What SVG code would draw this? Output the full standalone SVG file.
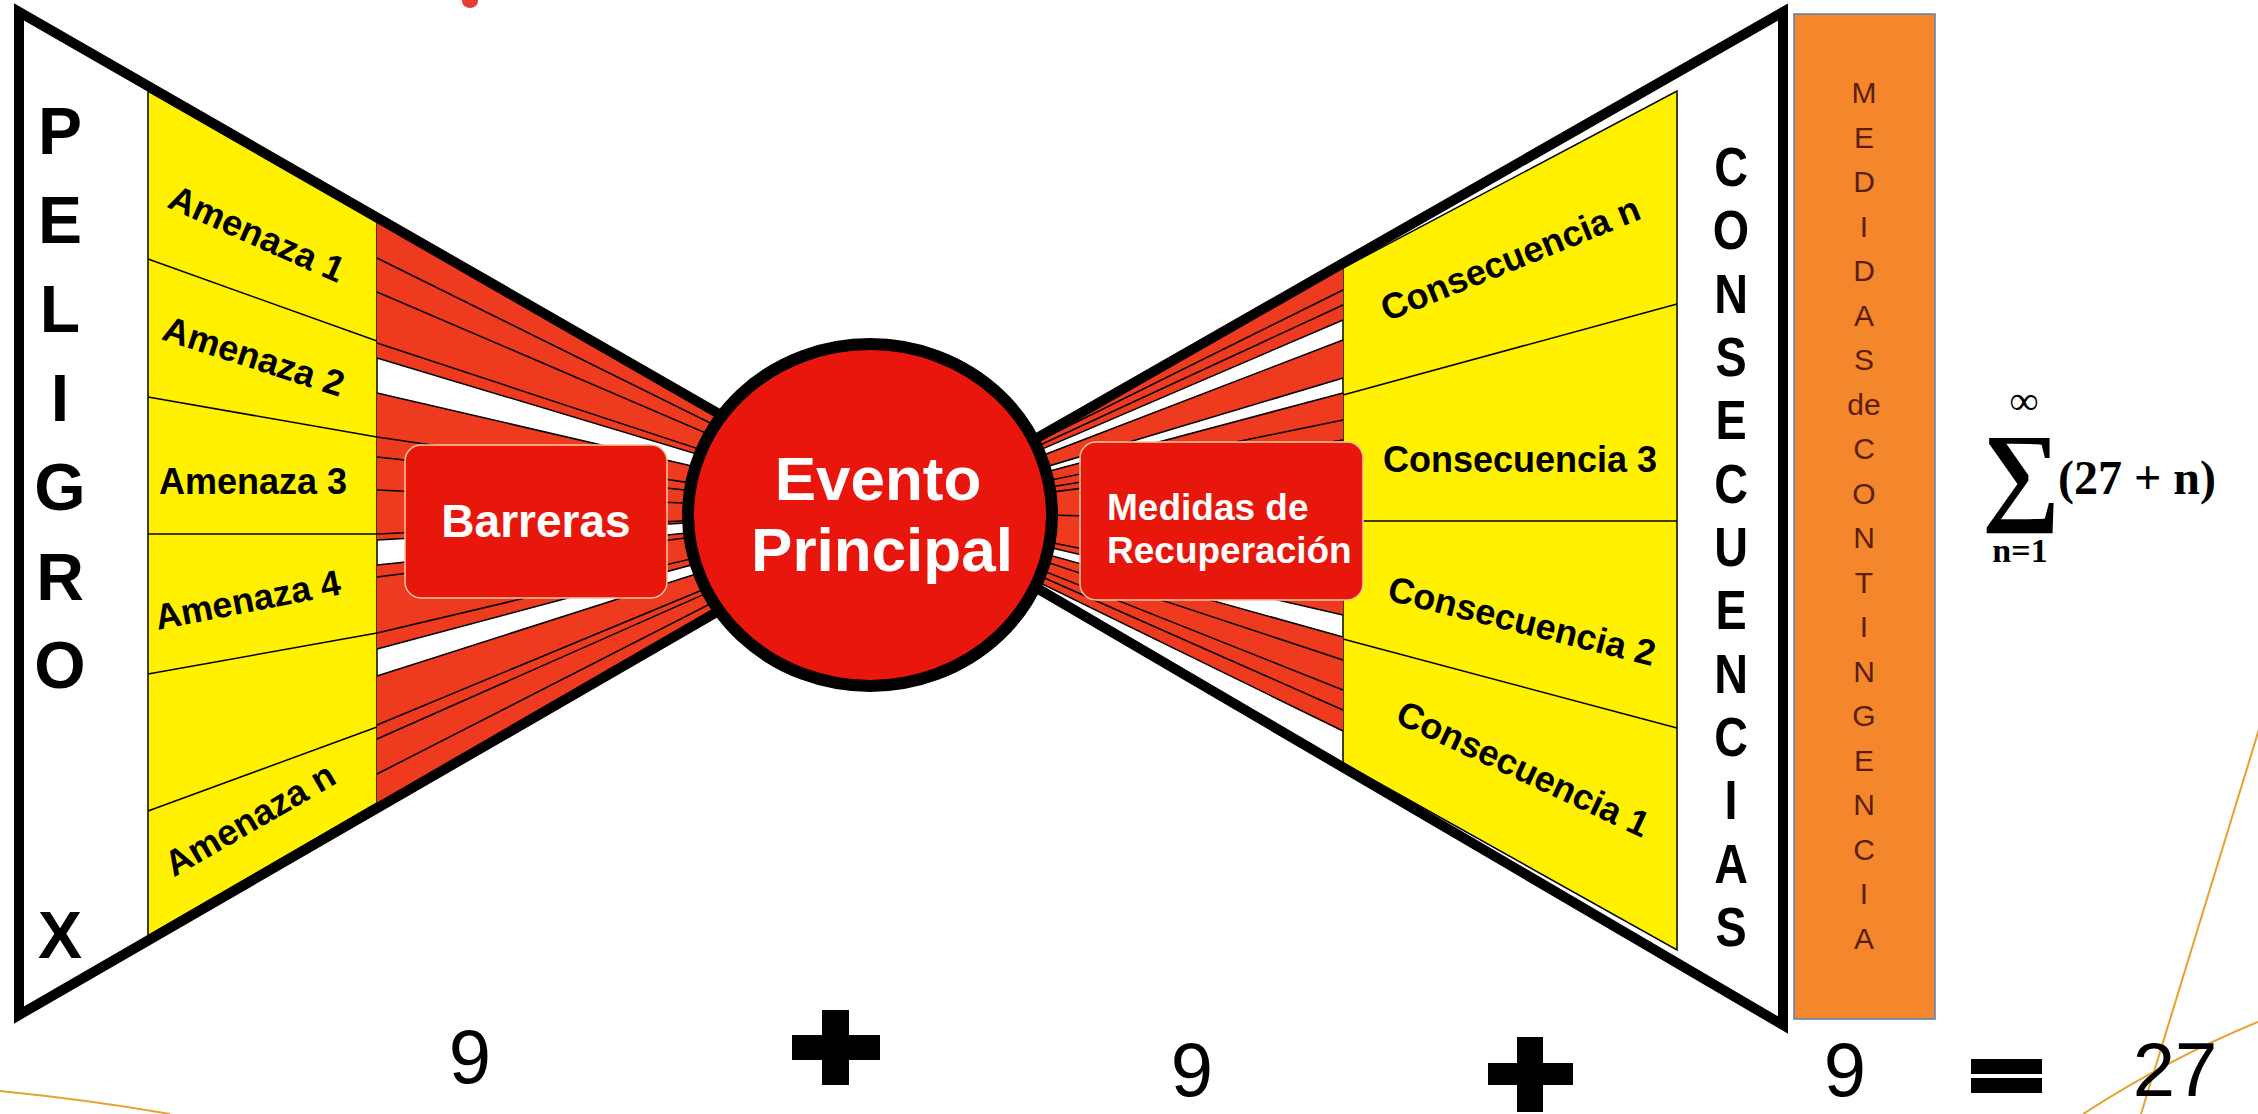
<svg xmlns="http://www.w3.org/2000/svg" width="2258" height="1114" viewBox="0 0 2258 1114">
<style>
.lbl{font-family:"Liberation Sans",Arial,sans-serif;font-weight:bold;font-size:36px;fill:#000;text-anchor:middle}
.big{font-family:"Liberation Sans",Arial,sans-serif;font-weight:bold;font-size:66px;fill:#000;text-anchor:middle}
.cons{font-family:"Liberation Sans",Arial,sans-serif;font-weight:bold;font-size:55px;fill:#000;text-anchor:middle}
.mc{font-family:"Liberation Sans",Arial,sans-serif;font-size:30px;fill:#5a1e0c;text-anchor:middle}
.num{font-family:"Liberation Sans",Arial,sans-serif;font-size:76px;fill:#000;text-anchor:middle}
.wt{font-family:"Liberation Sans",Arial,sans-serif;font-weight:bold;fill:#fff}
.serif{font-family:"Liberation Serif","DejaVu Serif",serif;font-weight:bold;fill:#000}
.yel{fill:#FFF100;stroke:#000;stroke-width:1.5}
.band{fill:#EE3A1F}
.thin{stroke:#000;stroke-width:1.5;fill:none}
.outline{fill:none;stroke:#000;stroke-width:10;stroke-linejoin:miter}
.box{fill:#E8170B;stroke:#F3C9A2;stroke-width:1.5}
.deco{fill:none;stroke:#E6A12E;stroke-width:2}
</style>
<rect x="0" y="0" width="2258" height="1114" fill="#fff"/>
<g id="decor">
<path class="deco" d="M2260 726 L2141 1114"/>
<path class="deco" d="M2258 1022 Q2170 1058 2083 1114"/>
<path class="deco" d="M0 1091 Q90 1100 170 1114"/>
<ellipse cx="470" cy="1" rx="8" ry="7" fill="#E21B12" opacity="0.85"/>
</g>
<g id="amenazas">
<polygon class="yel" points="148,91 377,222 377,803 148,936"/>
<g class="thin">
<line x1="148" y1="259" x2="377" y2="341"/>
<line x1="148" y1="397" x2="377" y2="437"/>
<line x1="148" y1="534" x2="377" y2="534"/>
<line x1="148" y1="674" x2="377" y2="633"/>
<line x1="148" y1="811" x2="377" y2="727"/>
</g>
<text class="lbl" x="252" y="245" transform="rotate(24 252 245)">Amenaza 1</text>
<text class="lbl" x="250" y="368" transform="rotate(18 250 368)">Amenaza 2</text>
<text class="lbl" x="253" y="494">Amenaza 3</text>
<text class="lbl" x="250" y="612" transform="rotate(-11 250 612)">Amenaza 4</text>
<text class="lbl" x="256" y="830" transform="rotate(-30 256 830)">Amenaza n</text>
</g>
<g id="consecuencias-col">
<polygon class="yel" points="1343,268 1677,91 1677,950 1343,763"/>
<g class="thin">
<line x1="1343" y1="395" x2="1677" y2="304"/>
<line x1="1343" y1="521" x2="1677" y2="521"/>
<line x1="1343" y1="639" x2="1677" y2="728"/>
</g>
<text class="lbl" x="1515" y="270" transform="rotate(-22 1515 270)">Consecuencia n</text>
<text class="lbl" x="1520" y="472">Consecuencia 3</text>
<text class="lbl" x="1519" y="633" transform="rotate(14 1519 633)">Consecuencia 2</text>
<text class="lbl" x="1518" y="780" transform="rotate(25 1518 780)">Consecuencia 1</text>
</g>
<g id="connectors">
<g class="band">
<polygon points="377,216.7 377,358 800,485 800,460.2"/>
<polygon points="377,393 377,540 800,516.9 800,491.1"/>
<polygon points="377,565 377,649 800,536 800,521.3"/>
<polygon points="377,676 377,808.3 800,564 800,540.8"/>
<polygon points="1343,264 1343,320 940,492.8 940,487.2"/>
<polygon points="1343,340 1343,378 940,498.6 940,494.8"/>
<polygon points="1343,393 1343,615 940,522.3 940,500.1"/>
<polygon points="1343,637 1343,731 940,533.9 940,524.5"/>
</g>
<g class="thin">
<line x1="377" y1="258" x2="800" y2="467.5"/>
<line x1="377" y1="292" x2="800" y2="473.4"/>
<line x1="377" y1="343" x2="800" y2="482.4"/>
<line x1="377" y1="358" x2="800" y2="485"/>
<line x1="377" y1="393" x2="800" y2="491.1"/>
<line x1="377" y1="437" x2="800" y2="498.9"/>
<line x1="377" y1="457" x2="800" y2="502.4"/>
<line x1="377" y1="490" x2="800" y2="508.1"/>
<line x1="377" y1="534" x2="800" y2="515.9"/>
<line x1="377" y1="540" x2="800" y2="516.9"/>
<line x1="377" y1="565" x2="800" y2="521.3"/>
<line x1="377" y1="577" x2="800" y2="523.4"/>
<line x1="377" y1="633" x2="800" y2="533.2"/>
<line x1="377" y1="649" x2="800" y2="536"/>
<line x1="377" y1="676" x2="800" y2="540.8"/>
<line x1="377" y1="725" x2="800" y2="549.4"/>
<line x1="377" y1="739" x2="800" y2="551.8"/>
<line x1="377" y1="774" x2="800" y2="558"/>
<line x1="1343" y1="290" x2="940" y2="489.8"/>
<line x1="1343" y1="305" x2="940" y2="491.3"/>
<line x1="1343" y1="320" x2="940" y2="492.8"/>
<line x1="1343" y1="340" x2="940" y2="494.8"/>
<line x1="1343" y1="378" x2="940" y2="498.6"/>
<line x1="1343" y1="393" x2="940" y2="500.1"/>
<line x1="1343" y1="420" x2="940" y2="502.8"/>
<line x1="1343" y1="440" x2="940" y2="504.8"/>
<line x1="1343" y1="455" x2="940" y2="506.3"/>
<line x1="1343" y1="521" x2="940" y2="512.9"/>
<line x1="1343" y1="600" x2="940" y2="520.8"/>
<line x1="1343" y1="615" x2="940" y2="522.3"/>
<line x1="1343" y1="637" x2="940" y2="524.5"/>
<line x1="1343" y1="660" x2="940" y2="526.8"/>
<line x1="1343" y1="690" x2="940" y2="529.8"/>
<line x1="1343" y1="710" x2="940" y2="531.8"/>
<line x1="1343" y1="731" x2="940" y2="533.9"/>
</g>
</g>
<g id="peligro">
<path class="outline" d="M890 512 L19 12 L19 1015 Z"/>
<text class="big" x="60" y="154">P</text>
<text class="big" x="60" y="243">E</text>
<text class="big" x="60" y="332">L</text>
<text class="big" x="60" y="421">I</text>
<text class="big" x="60" y="510">G</text>
<text class="big" x="60" y="600">R</text>
<text class="big" x="60" y="688">O</text>
<text class="big" x="60" y="958">X</text>
</g>
<g id="consecuencias">
<path class="outline" d="M895 519 L1783 12 L1783 1025 L895 505 Z"/>
<g transform="translate(1731 0) scale(0.85 1)">
<text class="cons" x="0" y="186">C</text>
<text class="cons" x="0" y="249">O</text>
<text class="cons" x="0" y="313">N</text>
<text class="cons" x="0" y="376">S</text>
<text class="cons" x="0" y="439">E</text>
<text class="cons" x="0" y="503">C</text>
<text class="cons" x="0" y="566">U</text>
<text class="cons" x="0" y="629">E</text>
<text class="cons" x="0" y="693">N</text>
<text class="cons" x="0" y="756">C</text>
<text class="cons" x="0" y="819">I</text>
<text class="cons" x="0" y="883">A</text>
<text class="cons" x="0" y="946">S</text>
</g>
</g>
<g id="barreras">
<rect class="box" x="405" y="445" width="262" height="153" rx="16"/>
<text class="wt" x="536" y="537" font-size="46" text-anchor="middle">Barreras</text>
</g>
<g id="medidas">
<rect class="box" x="1080" y="442" width="283" height="158" rx="16"/>
<text class="wt" x="1107" y="520" font-size="37">Medidas de</text>
<text class="wt" x="1107" y="563" font-size="37">Recuperación</text>
</g>
<g id="evento">
<ellipse cx="870" cy="515" rx="182" ry="171" fill="#E8160C" stroke="#000" stroke-width="12"/>
<text class="wt" x="878" y="500" font-size="62" text-anchor="middle">Evento</text>
<text class="wt" x="882" y="571" font-size="62" text-anchor="middle">Principal</text>
</g>
<g id="contingencia">
<rect x="1794" y="14" width="141" height="1005" fill="#F4862B" stroke="#5A7FA8" stroke-width="1.5"/>
<text class="mc" x="1864" y="103">M</text>
<text class="mc" x="1864" y="147.5">E</text>
<text class="mc" x="1864" y="192">D</text>
<text class="mc" x="1864" y="236.5">I</text>
<text class="mc" x="1864" y="281">D</text>
<text class="mc" x="1864" y="325.5">A</text>
<text class="mc" x="1864" y="370">S</text>
<text class="mc" x="1864" y="414.5">de</text>
<text class="mc" x="1864" y="459">C</text>
<text class="mc" x="1864" y="503.5">O</text>
<text class="mc" x="1864" y="548">N</text>
<text class="mc" x="1864" y="592.5">T</text>
<text class="mc" x="1864" y="637">I</text>
<text class="mc" x="1864" y="681.5">N</text>
<text class="mc" x="1864" y="726">G</text>
<text class="mc" x="1864" y="770.5">E</text>
<text class="mc" x="1864" y="815">N</text>
<text class="mc" x="1864" y="859.5">C</text>
<text class="mc" x="1864" y="904">I</text>
<text class="mc" x="1864" y="948.5">A</text>
</g>
<g id="formula">
<text class="serif" x="2024" y="414" font-size="40" text-anchor="middle" font-weight="normal">∞</text>
<text class="serif" x="2021" y="510" font-size="110" text-anchor="middle">∑</text>
<text class="serif" x="2020" y="562" font-size="34" text-anchor="middle">n=1</text>
<text class="serif" x="2058" y="494" font-size="48">(27 + n)</text>
</g>
<g id="equation">
<text class="num" x="470" y="1083">9</text>
<path d="M822 1010 H849 V1035 H880 V1060 H849 V1085 H822 V1060 H792 V1035 H822 Z" fill="#000"/>
<text class="num" x="1192" y="1096">9</text>
<path d="M1517 1037 H1543 V1063 H1573 V1085 H1543 V1112 H1517 V1085 H1488 V1063 H1517 Z" fill="#000"/>
<text class="num" x="1845" y="1096">9</text>
<rect x="1971" y="1059" width="71" height="15" fill="#000"/>
<rect x="1971" y="1078" width="71" height="15" fill="#000"/>
<text class="num" x="2175" y="1096">27</text>
</g>
</svg>
